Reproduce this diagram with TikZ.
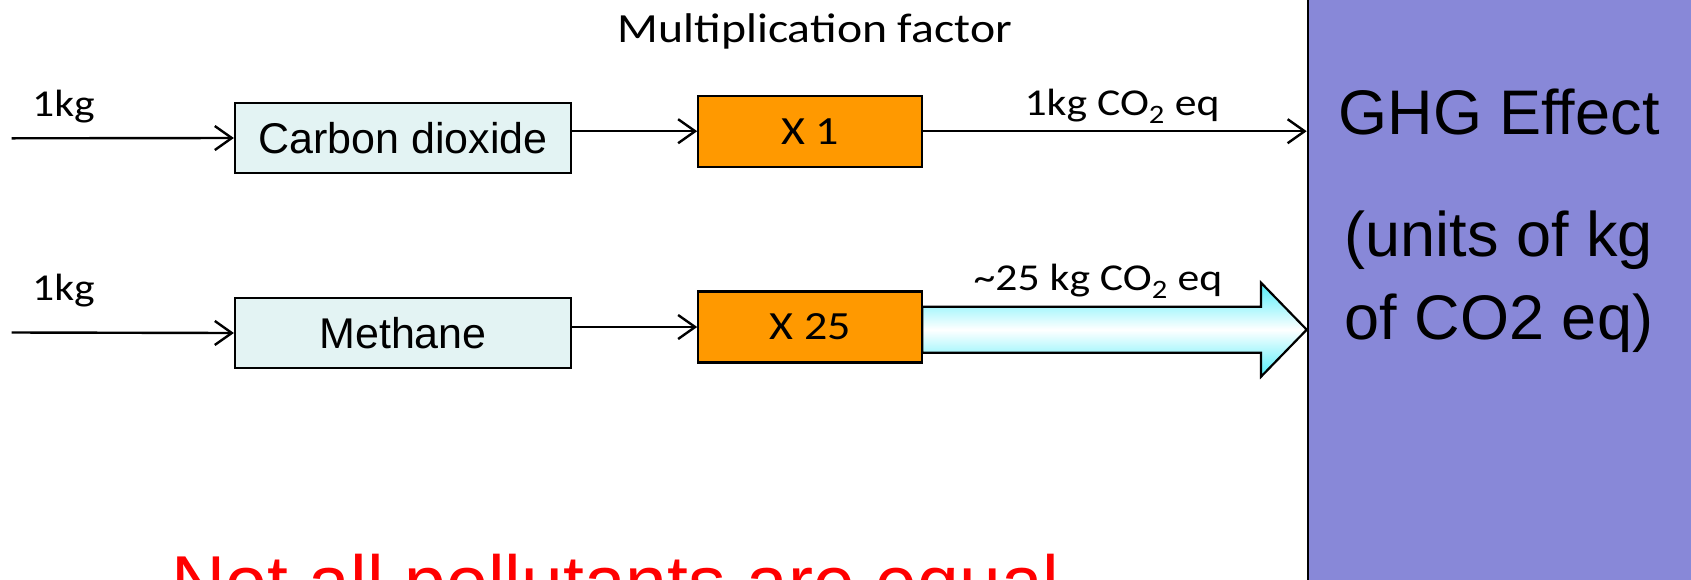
\documentclass[tikz,border=0pt]{standalone}
\usepackage{fontspec}
\setmainfont{Liberation Sans}
\newfontfamily\calfont{Carlito}[FakeStretch=1.15]
\usetikzlibrary{arrows.meta,calc}
\definecolor{boxcyan}{RGB}{227,243,243}
\definecolor{boxorange}{RGB}{255,153,0}
\definecolor{ghgblue}{RGB}{136,136,216}
\definecolor{arrcyan}{RGB}{80,238,250}
\tikzset{
  thinarrow/.style={line width=2.4pt,-{Straight Barb[length=17pt,width=24pt,line width=2.4pt]}},
  gasbox/.style={draw=black,line width=2.2pt,fill=boxcyan,minimum width=336pt,minimum height=70.6pt,inner sep=0pt,font=\fontsize{43}{50}\selectfont},
  factorbox/.style={draw=black,line width=2.2pt,fill=boxorange,minimum width=224pt,minimum height=71pt,inner sep=0pt,font=\calfont\fontsize{40}{48}\selectfont},
  callabel/.style={inner sep=0pt,font=\calfont\fontsize{38}{46}\selectfont},
  ghgtext/.style={inner sep=0pt,font=\fontsize{63}{72}\selectfont},
  bigarrow/.style={draw=black,line width=2.2pt,top color=arrcyan,bottom color=arrcyan,middle color=white}
}
\begin{document}
\begin{tikzpicture}[x=1pt,y=-1pt]
\useasboundingbox (0,0) rectangle (1691,579);
\clip (0,0) rectangle (1691,579);
\fill[white] (0,0) rectangle (1691,579);

% GHG box
\node[draw=black,line width=2.4pt,fill=ghgblue,minimum width=400pt,minimum height=600pt,anchor=north west,inner sep=0pt] (ghg) at (1306.7,-10) {};
\node[ghgtext,anchor=base] (ghg1) at (1499,134) {GHG Effect};
\node[ghgtext,anchor=base] (ghg2) at (1499,256) {(units of kg};
\node[ghgtext,anchor=base] (ghg3) at (1499,339) {of CO2 eq)};

% heading
\node[inner sep=0pt,anchor=base,font=\calfont\fontsize{41.5}{48}\selectfont] (head) at (815,42) {Multiplication factor};

% row 1
\node[gasbox] (co2) at (403,138) {Carbon dioxide};
\node[factorbox] (x1) at (810.3,131.2) {X 1};
\coordinate (in1) at (11.7,138.3);
\node[callabel,anchor=base west] (kg1) at (32,116.7) {1kg};
\draw[thinarrow] (in1) -- (co2.west);
\draw[thinarrow] (co2.east |- x1.west) -- (x1.west);
\draw[thinarrow] (x1.east) -- (x1.east -| ghg.west);
\node[callabel,anchor=base] (eq1) at (1122,115) {1kg CO\textsubscript{2} eq};

% row 2
\node[gasbox] (meth) at (403,333) {Methane};
\node[factorbox] (x25) at (810.3,327) {X 25};
\coordinate (in2) at (11.7,332.5);
\node[callabel,anchor=base west] (kg2) at (32,300) {1kg};
\draw[thinarrow] (in2) -- (meth.west);
\draw[thinarrow] (meth.east |- x25.west) -- (x25.west);
\draw[bigarrow] (922.3,306.7) -- (1261,306.7) -- (1261,282.7) -- (1306.7,329.7) -- (1261,376.7) -- (1261,352.7) -- (922.3,352.7) -- cycle;
\node[callabel,anchor=base] (eq25) at (1098,290) {\textasciitilde25 kg CO\textsubscript{2} eq};

% bottom message
\node[inner sep=0pt,anchor=base west,text=red,font=\fontsize{75}{85}\selectfont] (msg) at (171.3,608.7) {Not all pollutants are equal};
\end{tikzpicture}
\end{document}
